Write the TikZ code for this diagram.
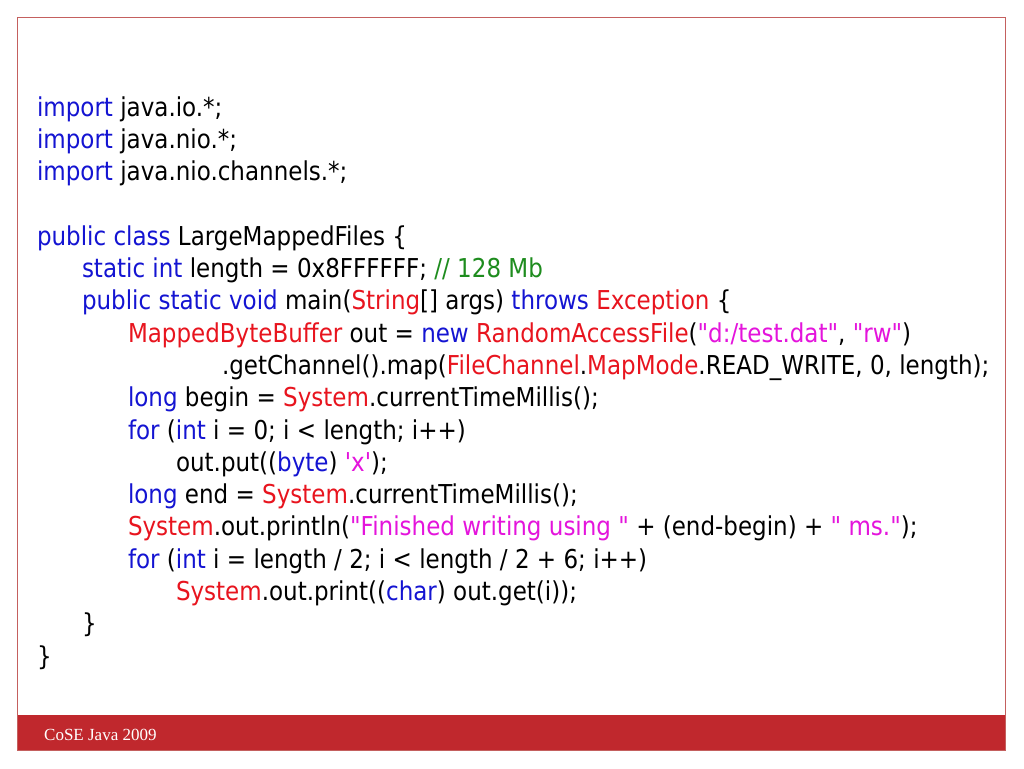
\documentclass[tikz,border=0pt]{standalone}
\usepackage{fontspec}
\newfontfamily\codefont{DejaVu Sans}[FakeStretch=0.885,Ligatures=TeXOff]
\newfontfamily\footfont{Liberation Serif}
\definecolor{kwc}{RGB}{20,20,210}
\definecolor{clc}{RGB}{232,20,30}
\definecolor{stc}{RGB}{228,20,220}
\definecolor{cmc}{RGB}{30,140,30}
\definecolor{framec}{RGB}{196,96,94}
\definecolor{barc}{RGB}{192,40,45}
\newcommand{\kw}[1]{\textcolor{kwc}{#1}}
\newcommand{\cl}[1]{\textcolor{clc}{#1}}
\newcommand{\st}[1]{\textcolor{stc}{#1}}
\newcommand{\cm}[1]{\textcolor{cmc}{#1}}
\tikzset{
  codeline/.style={anchor=base west,inner sep=0pt,outer sep=0pt,text=black,
    font=\codefont\fontsize{26}{32}\selectfont},
  foottext/.style={anchor=base west,inner sep=0pt,text=white,
    font=\footfont\fontsize{17}{20}\selectfont}
}
\begin{document}
\begin{tikzpicture}[x=1pt,y=-1pt]
\useasboundingbox (0,0) rectangle (1024,768);
\fill[white] (0,0) rectangle (1024,768);
% frame and footer bar
\fill[barc] (17,715) rectangle (1006,751);
\draw[framec,line width=1.2pt] (17.5,17.5) rectangle (1005.5,750.5);
\node[foottext] (foot) at (44,740) {CoSE Java 2009};
% code
\def\ba{116}\def\ls{32.3}
\node[codeline] (l0) at (37,{\ba+0*\ls}) {\kw{import} java.io.*;};
\node[codeline] (l1) at (37,{\ba+1*\ls}) {\kw{import} java.nio.*;};
\node[codeline] (l2) at (37,{\ba+2*\ls}) {\kw{import} java.nio.channels.*;};
\node[codeline] (l4) at (37,{\ba+4*\ls}) {\kw{public class} LargeMappedFiles \{};
\node[codeline] (l5) at (82,{\ba+5*\ls}) {\kw{static int} length = 0x8FFFFFF; \cm{// 128 Mb}};
\node[codeline] (l6) at (82,{\ba+6*\ls}) {\kw{public static void} main(\cl{String}[] args) \kw{throws} \cl{Exception} \{};
\node[codeline] (l7) at (128,{\ba+7*\ls}) {\cl{MappedByteBuffer} out = \kw{new} \cl{RandomAccessFile}(\st{"d:/test.dat"}, \st{"rw"})};
\node[codeline] (l8) at (222,{\ba+8*\ls}) {.getChannel().map(\cl{FileChannel}.\cl{MapMode}.READ\_WRITE, 0, length);};
\node[codeline] (l9) at (128,{\ba+9*\ls}) {\kw{long} begin = \cl{System}.currentTimeMillis();};
\node[codeline] (l10) at (128,{\ba+10*\ls}) {\kw{for} (\kw{int} i = 0; i < length; i++)};
\node[codeline] (l11) at (176,{\ba+11*\ls}) {out.put((\kw{byte}) \st{'x'});};
\node[codeline] (l12) at (128,{\ba+12*\ls}) {\kw{long} end = \cl{System}.currentTimeMillis();};
\node[codeline] (l13) at (128,{\ba+13*\ls}) {\cl{System}.out.println(\st{"Finished writing using "} + (end-begin) + \st{" ms."});};
\node[codeline] (l14) at (128,{\ba+14*\ls}) {\kw{for} (\kw{int} i = length / 2; i < length / 2 + 6; i++)};
\node[codeline] (l15) at (176,{\ba+15*\ls}) {\cl{System}.out.print((\kw{char}) out.get(i));};
\node[codeline] (l16) at (82,{\ba+16*\ls}) {\}};
\node[codeline] (l17) at (37,{\ba+17*\ls}) {\}};
\end{tikzpicture}
\end{document}
